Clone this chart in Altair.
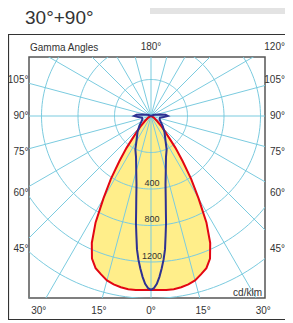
import math
import altair as alt
import pandas as pd

# ---------------- data ----------------
# gamma angle (deg, 0 = straight down) and luminous intensity (cd/klm)
red_gamma = [0, 2.5, 5, 7.5, 10, 12.5, 15, 17.5, 20, 22.5, 25, 27.5, 30, 32.5, 35, 37.5, 40, 42.5, 45, 50, 60, 70, 80]
red_cdklm = [1905, 1910, 1915, 1915, 1905, 1890, 1865, 1820, 1775, 1690, 1535, 1315, 1040, 820, 605, 440, 295, 220, 165, 90, 35, 10, 0]

blue_gamma = [0, 1, 2, 3, 4, 5, 6, 7, 8, 9, 10, 12, 15, 20, 25, 30, 40, 50, 60, 70, 80, 85, 90, 95, 100, 110, 120, 135]
blue_cdklm = [1905, 1885, 1840, 1765, 1675, 1580, 1470, 1315, 1185, 1040, 930, 765, 625, 480, 405, 320, 230, 165, 120, 100, 100, 140, 185, 160, 95, 40, 12, 0]

ring_values = [400, 800, 1200, 1600, 2000, 2400]
ring_labels = ["", "400", "800", "1200", "", ""]
ray_angles = list(range(0, 360, 15))
tick_angles = [105, 90, 75, 60, 45, 30, 15, 0, -15, -30, -45, -60, -75, -90, -105, 180, 120]
tick_labels = ["105°", "90°", "75°", "60°", "45°", "30°", "15°", "0°", "15°", "30°",
               "45°", "60°", "75°", "90°", "105°", "180°", "120°"]
title_text = "30°+90°"
corner_text = "Gamma Angles"
unit_text = "cd/klm"

# ---------------- layout ----------------
W, H = 236, 241            # plot area (px)
CX, CY = 122, 59           # pole position inside the plot area (px)
PXU = 36.5 / 400           # px per cd/klm
XDOM = [-CX / PXU, (W - CX) / PXU]
YDOM = [-(H - CY) / PXU, CY / PXU]
xs = alt.Scale(domain=XDOM, nice=False, zero=False)
ys = alt.Scale(domain=YDOM, nice=False, zero=False)

GRID = "#7BCBDF"
RED = "#E30613"
BLUE = "#2E3192"
YEL = "#FFEE8A"
TXT = "#333333"


def polar_df(gammas, vals):
    g_all = [-g for g in reversed(gammas[1:])] + list(gammas)
    v_all = list(reversed(vals[1:])) + list(vals)
    rows = []
    for i, (g, v) in enumerate(zip(g_all, v_all)):
        a = math.radians(g)
        rows.append({"i": i, "x": v * math.sin(a), "y": -v * math.cos(a)})
    return pd.DataFrame(rows)


red_df = polar_df(red_gamma, red_cdklm)
blue_df = polar_df(blue_gamma, blue_cdklm)

ring_rows = []
for r in ring_values:
    for k, a in enumerate(range(0, 362, 2)):
        t = math.radians(a)
        ring_rows.append({"ring": r, "i": k, "x": r * math.sin(t), "y": -r * math.cos(t)})
ring_df = pd.DataFrame(ring_rows)

L = 3000
ray_df = pd.DataFrame([{"x": 0, "y": 0, "x2": L * math.sin(math.radians(a)),
                        "y2": -L * math.cos(math.radians(a))} for a in ray_angles])

lab_df = pd.DataFrame({"x": [0] * len(ring_values), "y": [-r for r in ring_values], "t": ring_labels})

# tick label positions: along each ray, on a rectangle around the plot (px from pole)
BL, BR, BT, BB = 133, 133, 69, 194.5
LEFT_EDGE, RIGHT_EDGE = -122.5, 134
tick_rows = []
for g, lab in zip(tick_angles, tick_labels):
    a = math.radians(g)
    dx, dy = math.sin(a), math.cos(a)
    cands = []
    if dx > 1e-9:
        cands.append((BR / dx, "side"))
    if dx < -1e-9:
        cands.append((BL / -dx, "side"))
    if dy > 1e-9:
        cands.append((BB / dy, "bottom"))
    if dy < -1e-9:
        cands.append((BT / -dy, "top"))
    t, edge = min(cands)
    px, py = t * dx, t * dy
    al = "center"
    if edge != "bottom" and dx > 1e-6:
        al, px = "right", RIGHT_EDGE
    elif edge != "bottom" and dx < -1e-6:
        al, px = "right", LEFT_EDGE
    tick_rows.append({"x": px / PXU, "y": -py / PXU, "t": lab, "al": al})
tick_df = pd.DataFrame(tick_rows)

one = pd.DataFrame({"a": [0]})

# ---------------- layers ----------------
header = alt.Chart(one).mark_rect(fill="#E3E3E3").encode(
    x=alt.value(121), x2=alt.value(270), y=alt.value(-49), y2=alt.value(-43))

outer = alt.Chart(one).mark_rect(fill="transparent", stroke="#333333", strokeWidth=1.2).encode(
    x=alt.value(-20.5), x2=alt.value(275), y=alt.value(-22.5), y2=alt.value(262.5))

title = alt.Chart(one).mark_text(text=title_text, align="left", baseline="alphabetic",
                                 font="Liberation Sans", fontSize=19, color=TXT).encode(
    x=alt.value(-4), y=alt.value(-32.8))

fill = alt.Chart(red_df).mark_line(fill=YEL, stroke=YEL, strokeWidth=0.5, clip=True).encode(
    x=alt.X("x:Q", scale=xs, axis=None), y=alt.Y("y:Q", scale=ys, axis=None), order="i:Q")

rings = alt.Chart(ring_df).mark_line(color=GRID, strokeWidth=1, clip=True).encode(
    x=alt.X("x:Q", scale=xs, axis=None), y=alt.Y("y:Q", scale=ys, axis=None),
    detail="ring:N", order="i:Q")

rays = alt.Chart(ray_df).mark_rule(color=GRID, strokeWidth=1, clip=True).encode(
    x=alt.X("x:Q", scale=xs, axis=None), y=alt.Y("y:Q", scale=ys, axis=None),
    x2="x2:Q", y2="y2:Q")

red_line = alt.Chart(red_df).mark_line(color=RED, strokeWidth=2, clip=True).encode(
    x=alt.X("x:Q", scale=xs, axis=None), y=alt.Y("y:Q", scale=ys, axis=None), order="i:Q")

blue_line = alt.Chart(blue_df).mark_line(color=BLUE, strokeWidth=2, clip=True).encode(
    x=alt.X("x:Q", scale=xs, axis=None), y=alt.Y("y:Q", scale=ys, axis=None), order="i:Q")

ring_text = alt.Chart(lab_df).mark_text(font="Liberation Sans", fontSize=9, color=TXT,
                                        baseline="middle", dy=-6.5, dx=1).encode(
    x=alt.X("x:Q", scale=xs, axis=None), y=alt.Y("y:Q", scale=ys, axis=None), text="t:N")

ticks_c = alt.Chart(tick_df[tick_df["al"] == "center"]).mark_text(
    font="Liberation Sans", fontSize=10, color=TXT, baseline="middle", align="center").encode(
    x=alt.X("x:Q", scale=xs, axis=None), y=alt.Y("y:Q", scale=ys, axis=None), text="t:N")

ticks_r = alt.Chart(tick_df[tick_df["al"] == "right"]).mark_text(
    font="Liberation Sans", fontSize=10, color=TXT, baseline="middle", align="right").encode(
    x=alt.X("x:Q", scale=xs, axis=None), y=alt.Y("y:Q", scale=ys, axis=None), text="t:N")

corner = alt.Chart(one).mark_text(text=corner_text, align="left", baseline="alphabetic",
                                  font="Liberation Sans", fontSize=10, color=TXT).encode(
    x=alt.value(1), y=alt.value(-6.3))

unit = alt.Chart(one).mark_text(text=unit_text, align="right", baseline="alphabetic",
                                font="Liberation Sans", fontSize=10, color=TXT).encode(
    x=alt.value(233), y=alt.value(238.5))

chart = alt.layer(header, outer, title, fill, rings, rays, red_line, blue_line,
                  ring_text, ticks_c, ticks_r, corner, unit).properties(
    width=W, height=H,
    padding={"left": 21, "top": 49, "right": 20, "bottom": 23},
    autosize=alt.AutoSizeParams(type="none"),
).configure_view(stroke="#555555", strokeWidth=1.5)

chart.save("out.html", embed_options={"renderer": "svg", "actions": False})
